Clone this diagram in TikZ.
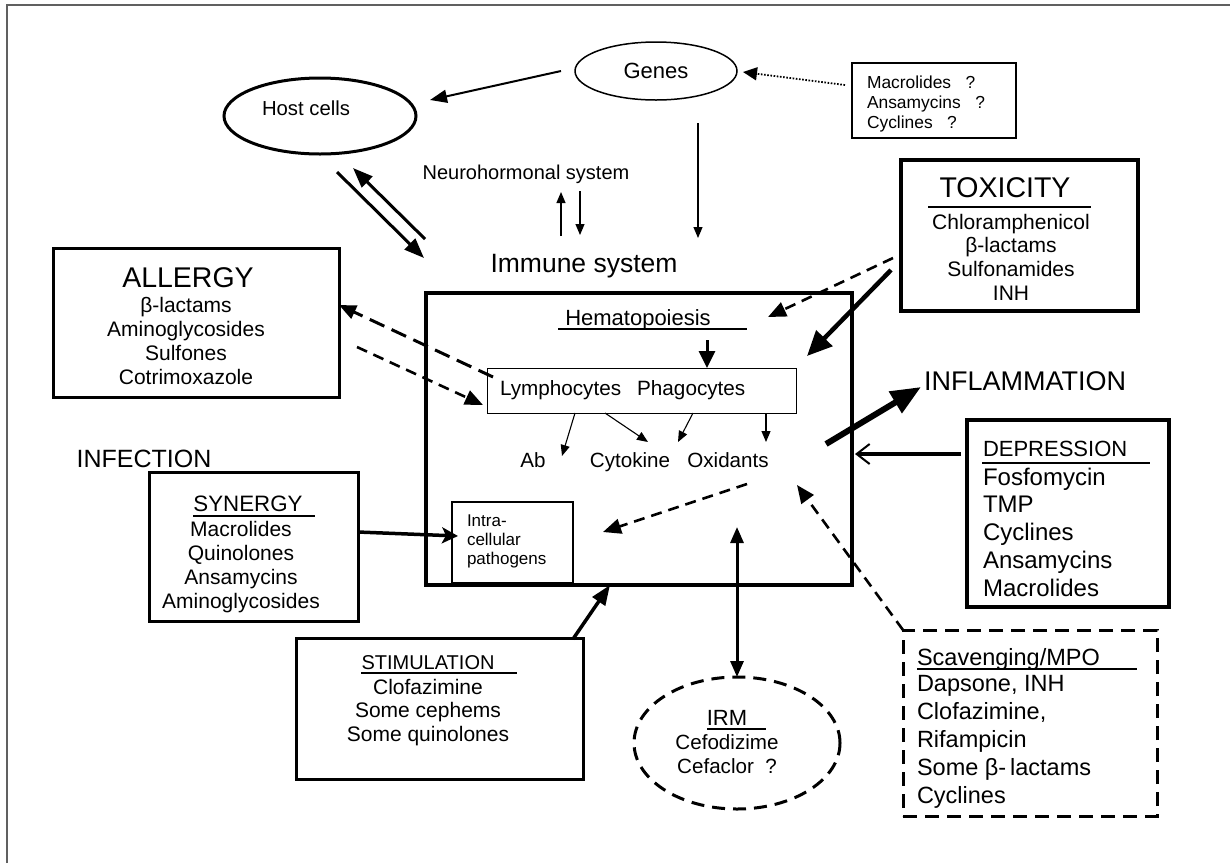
\documentclass[tikz,border=0pt]{standalone}
\usepackage{fontspec}
\setmainfont{Liberation Sans}
\usetikzlibrary{arrows.meta,shapes.geometric}
\definecolor{framegray}{RGB}{96,96,96}

\begin{document}
\begin{tikzpicture}[x=1pt,y=-1pt,
  txt/.style={inner sep=0pt,outer sep=0pt},
  drugbox/.style={draw,line width=#1,inner sep=0pt,outer sep=0pt},
  drugbox/.default=3pt,
  rule/.style={line width=2pt},
  thinarr/.style={line width=1.1pt,-{Triangle[length=11pt,width=9pt]}},
  medarr/.style={line width=2pt,-{Triangle[length=17pt,width=13pt]}},
  bigarr/.style={line width=3pt,-{Triangle[length=20pt,width=15pt]}},
  dasharr/.style={line width=2.6pt,dash pattern=on 11pt off 7pt,-{Triangle[length=18pt,width=15pt]}}]
\useasboundingbox (0,0) rectangle (1230,863);
\draw[framegray,line width=2pt] (7,863) -- (7,5) -- (1230,5);

% top row: genes, host cells, the question-mark drugs
\node[ellipse,draw,line width=1.5pt,minimum width=162pt,minimum height=58pt,inner sep=0pt,outer sep=0pt,font=\fontsize{22}{26}\selectfont] (genes) at (656,71) {Genes};
\node[ellipse,draw,line width=3pt,minimum width=192pt,minimum height=76pt,inner sep=0pt,outer sep=0pt,label={[txt,font=\fontsize{20.3}{24}\selectfont,xshift=-14pt,yshift=8pt]center:Host cells}] (host) at (320,116) {};
\node[drugbox=1.5pt,minimum width=164pt,minimum height=75pt] (mqbox) at (934,100.5) {};
\node[txt,anchor=west,align=left,font=\fontsize{17.4}{20}\selectfont] (mqlist) at (867,103.5) {Macrolides~~~?\\Ansamycins~~~?\\Cyclines~~~?};
\node[txt,anchor=base,font=\fontsize{20}{24}\selectfont] (neuro) at (526,179) {Neurohormonal system};
\node[txt,anchor=base,font=\fontsize{26.5}{30}\selectfont] (immlbl) at (584,272.5) {Immune system};

\draw[medarr] ([shift={(-14,0)}]genes.west) -- ([shift={(14,-16)}]host.east);
\draw[line width=1.8pt,dash pattern=on 1.6pt off 1.6pt,-{Triangle[length=14pt,width=13pt]}] ([shift={(-7,-15.5)}]mqbox.west) -- ([shift={(6,1)}]genes.east);
\draw[thinarr] ([shift={(42,23)}]genes.south) -- ([shift={(114,-34.5)}]immlbl.base);
\draw[thinarr] ([shift={(-23,-36.5)}]immlbl.base) -- ([shift={(35,13)}]neuro.base);
\draw[thinarr] ([shift={(54,12)}]neuro.base) -- ([shift={(-4,-37.5)}]immlbl.base);

% immune system box
\node[drugbox=4.5pt,minimum width=426pt,minimum height=292pt] (immbox) at (639,439) {};
\draw[bigarr] ([shift={(17,18)}]host.south) -- ([shift={(-2,-35)}]immbox.north west);
\draw[bigarr] ([shift={(-1,-54)}]immbox.north west) -- ([shift={(33,14)}]host.south);

\node[txt,anchor=base,font=\fontsize{22}{26}\selectfont] (hema) at (638,325) {Hematopoiesis};
\draw[rule] (558,329) -- (747,329);
\node[draw,line width=1pt,minimum height=45pt,text width=283pt,inner xsep=13pt,inner ysep=0pt,outer sep=0pt,align=left,font=\fontsize{20.7}{24}\selectfont] (lymph) at (641.5,390.5) {Lymphocytes\hspace{16pt}Phagocytes};
\draw[line width=3pt,-{Triangle[length=17pt,width=16pt]}] ([shift={(69,15)}]hema.base) -- ([shift={(65.5,0)}]lymph.north);

\node[txt,anchor=base,font=\fontsize{20.6}{24}\selectfont] (ab) at (533,467) {Ab};
\node[txt,anchor=base,font=\fontsize{20.6}{24}\selectfont] (cyto) at (630,467) {Cytokine};
\node[txt,anchor=base,font=\fontsize{20.6}{24}\selectfont] (oxid) at (728,467) {Oxidants};
\draw[thinarr] ([shift={(88,0)}]lymph.south west) -- ([shift={(29,-11)}]ab.base);
\draw[thinarr] ([shift={(118,0)}]lymph.south west) -- ([shift={(18,-25)}]cyto.base);
\draw[thinarr] ([shift={(206,0)}]lymph.south west) -- ([shift={(-50,-25)}]oxid.base);
\draw[thinarr] ([shift={(279,0)}]lymph.south west) -- ([shift={(38,-25)}]oxid.base);

\node[drugbox=2.5pt,minimum width=121pt,minimum height=81pt] (intra) at (512.5,542.5) {};
\node[txt,anchor=west,align=left,font=\fontsize{17}{19}\selectfont] (intralist) at (467,541.6) {Intra-\\cellular\\pathogens};
\draw[dasharr] ([shift={(19,17)}]oxid.base) -- ([shift={(30,-10.5)}]intra.east);

% allergy
\node[drugbox,minimum width=286pt,minimum height=149pt] (allergy) at (196,322.5) {};
\node[txt,anchor=base,font=\fontsize{28.5}{32}\selectfont] (allergyttl) at (188,287) {ALLERGY};
\node[txt,align=center,font=\fontsize{21}{24.3}\selectfont] (allergylist) at (186,341) {β-lactams\\Aminoglycosides\\Sulfones\\Cotrimoxazole};
\draw[line width=3pt,dash pattern=on 16pt off 8pt,-{Triangle[length=17pt,width=14pt]}] ([shift={(6,9)}]lymph.north west) -- ([shift={(0,-17.5)}]allergy.east);
\draw[dasharr] ([shift={(18,24.5)}]allergy.east) -- ([shift={(-4,14.5)}]lymph.west);

% toxicity
\node[drugbox=3.5pt,minimum width=237pt,minimum height=151pt] (tox) at (1019.5,235.5) {};
\node[txt,anchor=base,font=\fontsize{28.5}{32}\selectfont] (toxttl) at (1005,197) {TOXICITY};
\draw[rule] (928,207) -- (1091,207);
\node[txt,align=center,font=\fontsize{21}{23.7}\selectfont] (toxlist) at (1011,257) {Chloramphenicol\\β-lactams\\Sulfonamides\\INH};
\draw[dasharr] ([shift={(-8,22.5)}]tox.west) -- ([shift={(130,-8)}]hema.base);
\draw[line width=4.5pt,-{Triangle[length=25pt,width=22pt]}] ([shift={(-10,34.5)}]tox.west) -- ([shift={(-45,63)}]immbox.north east);

% inflammation and depression
\node[txt,anchor=base west,font=\fontsize{27}{31}\selectfont] (infl) at (924,390) {INFLAMMATION};
\draw[line width=6pt,-{Triangle[length=30pt,width=24pt]}] ([shift={(-26,5)}]immbox.east) -- ([shift={(-3,-3)}]infl.base west);
\node[drugbox=4.5pt,minimum width=202pt,minimum height=187pt] (depr) at (1068,513.5) {};
\node[txt,anchor=base west,font=\fontsize{22}{26}\selectfont] (deprttl) at (983,456) {DEPRESSION};
\draw[rule] (982,463) -- (1150,463);
\node[txt,anchor=west,align=left,font=\fontsize{24}{27.75}\selectfont] (deprlist) at (983,532) {Fosfomycin\\TMP\\Cyclines\\Ansamycins\\Macrolides};
\draw[line width=3.5pt,-{Straight Barb[length=13pt,width=20pt,line width=2pt]}] ([shift={(-6,-59.5)}]depr.west) -- ([shift={(3,15)}]immbox.east);

% infection and synergy
\node[txt,anchor=base,font=\fontsize{25}{29}\selectfont] (infect) at (144,467) {INFECTION};
\node[drugbox,minimum width=209pt,minimum height=149pt] (syn) at (253.5,546.5) {};
\node[txt,anchor=base,font=\fontsize{22.3}{26}\selectfont] (synttl) at (248,511) {SYNERGY};
\draw[rule] (193,516) -- (315,516);
\node[txt,align=center,font=\fontsize{21}{24}\selectfont] (synlist) at (241,567) {Macrolides\\Quinolones\\Ansamycins\\Aminoglycosides};
\draw[line width=3.5pt,-{Stealth[length=16pt,width=16pt,inset=4pt]}] ([shift={(0,-14.5)}]syn.east) -- ([shift={(6,-6.5)}]intra.west);

% stimulation
\node[drugbox,minimum width=287pt,minimum height=141pt] (stim) at (439.5,708.5) {};
\node[txt,anchor=base,font=\fontsize{20}{24}\selectfont] (stimttl) at (428,669) {STIMULATION};
\draw[rule] (361,673) -- (517,673);
\node[txt,align=center,font=\fontsize{21}{23.5}\selectfont] (stimlist) at (428,712.5) {Clofazimine\\Some cephems\\Some quinolones};
\draw[line width=3.5pt,-{Triangle[length=20pt,width=15pt]}] ([shift={(-10,1)}]stim.north east) -- ([shift={(184,0)}]immbox.south west);

% immunoregulating molecules
\node[ellipse,draw,line width=3pt,dash pattern=on 13pt off 8pt,minimum width=206pt,minimum height=132pt,inner sep=0pt,outer sep=0pt] (irm) at (737,743) {};
\node[txt,anchor=base,font=\fontsize{22}{26}\selectfont] (irmttl) at (727,725) {IRM};
\draw[rule] (707,729) -- (766,729);
\node[txt,align=center,font=\fontsize{20.6}{24}\selectfont] (irmlist) at (727,754) {Cefodizime\\Cefaclor~~?};
\draw[line width=3pt,{Triangle[length=16pt,width=13pt]}-{Triangle[length=16pt,width=13pt]}] ([shift={(98,-58)}]immbox.south) -- (irm.north);

% scavenging
\node[drugbox,dash pattern=on 14pt off 8pt,minimum width=254pt,minimum height=186pt] (scav) at (1030,723) {};
\node[txt,anchor=base west,font=\fontsize{23.5}{27}\selectfont] (scavttl) at (917,665.4) {Scavenging/MPO};
\draw[rule] (917,669) -- (1137,669);
\node[txt,anchor=west,align=left,font=\fontsize{23.5}{28}\selectfont] (scavlist) at (917,742) {Dapsone, INH\\Clofazimine,\\Rifampicin\\Some β-\,lactams\\Cyclines};
\draw[dasharr] (scav.north west) -- ([shift={(69,18)}]oxid.base);
\end{tikzpicture}
\end{document}
